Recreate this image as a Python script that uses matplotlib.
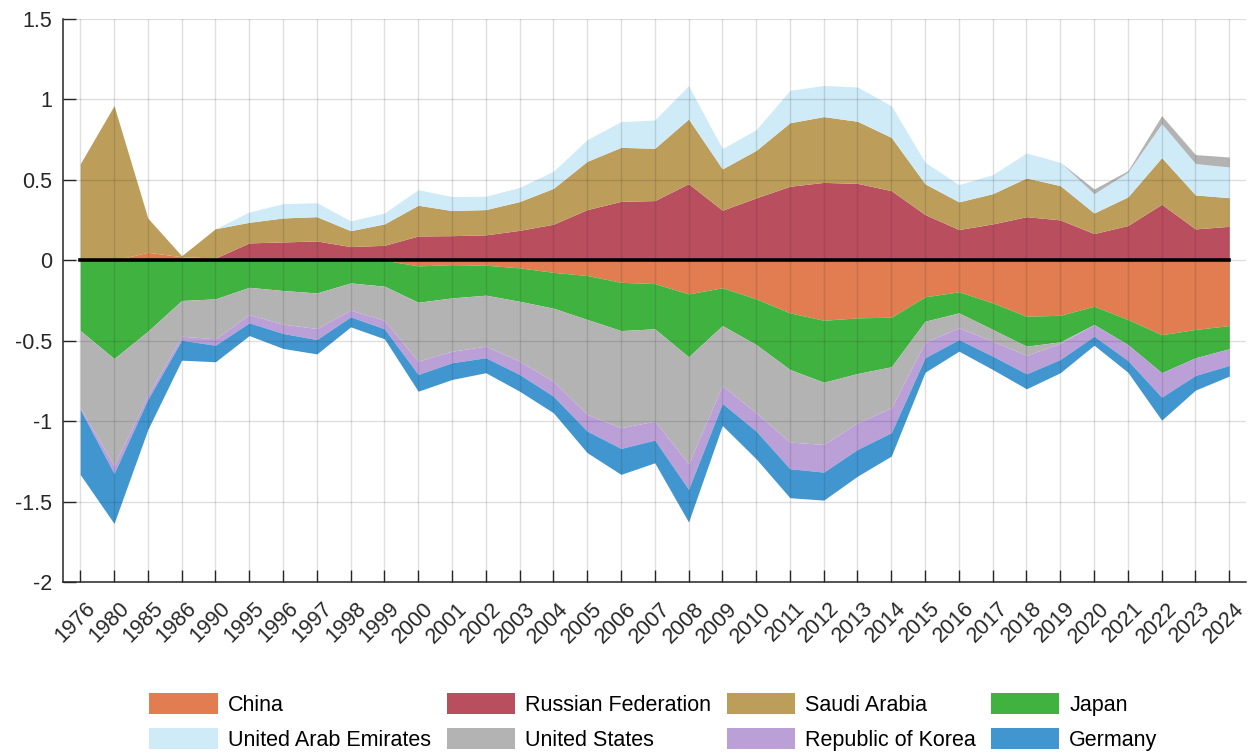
import numpy as np
import matplotlib
matplotlib.use('Agg')
import matplotlib.pyplot as plt
import matplotlib.transforms as mtrans
from matplotlib import font_manager

years = ['1976', '1980', '1985', '1986', '1990', '1995', '1996', '1997', '1998', '1999',
         '2000', '2001', '2002', '2003', '2004', '2005', '2006', '2007', '2008', '2009',
         '2010', '2011', '2012', '2013', '2014', '2015', '2016', '2017', '2018', '2019',
         '2020', '2021', '2022', '2023', '2024']

china = [0, 0, 0.05, 0.022, 0.014, 0, 0, 0, 0, 0,
         -0.035, -0.027, -0.031, -0.047, -0.075, -0.095, -0.137, -0.145, -0.209, -0.171,
         -0.24, -0.327, -0.373, -0.358, -0.354, -0.227, -0.196, -0.265, -0.348, -0.342,
         -0.286, -0.368, -0.463, -0.43, -0.406]
russia = [0, 0, 0, 0, 0, 0.108, 0.114, 0.12, 0.085, 0.093,
          0.151, 0.153, 0.158, 0.186, 0.224, 0.315, 0.366, 0.371, 0.476, 0.311,
          0.388, 0.46, 0.484, 0.478, 0.433, 0.284, 0.191, 0.226, 0.271, 0.251,
          0.166, 0.216, 0.348, 0.195, 0.211]
saudi = [0.6, 0.961, 0.212, 0.006, 0.182, 0.128, 0.149, 0.151, 0.099, 0.133,
         0.191, 0.156, 0.157, 0.179, 0.223, 0.3, 0.336, 0.325, 0.402, 0.257,
         0.295, 0.395, 0.409, 0.386, 0.331, 0.191, 0.172, 0.188, 0.241, 0.213,
         0.128, 0.178, 0.29, 0.211, 0.178]
japan = [-0.437, -0.611, -0.441, -0.25, -0.24, -0.168, -0.188, -0.203, -0.141, -0.161,
         -0.226, -0.207, -0.186, -0.208, -0.223, -0.273, -0.3, -0.281, -0.391, -0.235,
         -0.284, -0.352, -0.385, -0.346, -0.308, -0.152, -0.131, -0.165, -0.186, -0.165,
         -0.113, -0.156, -0.236, -0.176, -0.144]
uae = [0, 0, 0, 0, 0, 0.064, 0.089, 0.087, 0.061, 0.068,
       0.097, 0.087, 0.083, 0.088, 0.106, 0.135, 0.16, 0.176, 0.207, 0.126,
       0.129, 0.201, 0.194, 0.213, 0.197, 0.134, 0.107, 0.118, 0.155, 0.145,
       0.12, 0.153, 0.211, 0.195, 0.191]
usa = [-0.48, -0.664, -0.397, -0.222, -0.248, -0.169, -0.209, -0.221, -0.169, -0.212,
       -0.366, -0.331, -0.317, -0.372, -0.454, -0.59, -0.604, -0.574, -0.665, -0.372,
       -0.424, -0.451, -0.387, -0.306, -0.255, -0.13, -0.093, -0.073, -0.056, -0.01,
       0.029, 0.01, 0.05, 0.056, 0.062]
korea = [-0.01, -0.05, -0.027, -0.025, -0.04, -0.052, -0.058, -0.069, -0.042, -0.053,
         -0.083, -0.072, -0.072, -0.083, -0.093, -0.104, -0.129, -0.118, -0.159, -0.112,
         -0.114, -0.166, -0.172, -0.166, -0.155, -0.097, -0.073, -0.093, -0.116, -0.1,
         -0.073, -0.099, -0.152, -0.11, -0.104]
germany = [-0.405, -0.311, -0.187, -0.124, -0.103, -0.079, -0.093, -0.089, -0.062, -0.062,
           -0.104, -0.104, -0.093, -0.104, -0.103, -0.134, -0.161, -0.141, -0.203, -0.137,
           -0.172, -0.18, -0.174, -0.166, -0.145, -0.09, -0.072, -0.083, -0.093, -0.082,
           -0.056, -0.073, -0.143, -0.091, -0.066]

names = ['China', 'Russian Federation', 'Saudi Arabia', 'Japan',
         'United Arab Emirates', 'United States', 'Republic of Korea', 'Germany']
series = [china, russia, saudi, japan, uae, usa, korea, germany]
colors = ['#E27D51', '#B94E5F', '#BC9D5A', '#40B240',
          '#CFEBF8', '#B3B3B3', '#BBA0D8', '#4196CF']

# narrow font if one is installed, else Arial-like
fonts = {f.name for f in font_manager.fontManager.ttflist}
fam = 'Liberation Sans'
fs = 15.5
for cand in ['Liberation Sans Narrow', 'Arial Narrow']:
    if cand in fonts:
        fam = cand
        fs = 19
        break
plt.rcParams['font.family'] = [fam, 'DejaVu Sans']

x = np.arange(len(years))
fig = plt.figure(figsize=(12.52, 7.53), dpi=100)
ax = fig.add_axes([0.0506, 0.2271, 0.9447, 0.7477])

pos = np.zeros(len(x))
neg = np.zeros(len(x))
handles = []
for s, c, n in zip(series, colors, names):
    v = np.array(s, dtype=float)
    p = np.clip(v, 0, None)
    q = np.clip(v, None, 0)
    h = ax.fill_between(x, pos, pos + p, color=c, lw=0, label=n, zorder=1)
    ax.fill_between(x, neg, neg + q, color=c, lw=0, zorder=1)
    handles.append(h)
    pos = pos + p
    neg = neg + q

ax.plot(x, np.zeros(len(x)), color='black', lw=2.6, zorder=3)

ax.set_xlim(-0.5, 34.5)
ax.set_ylim(-2, 1.5)
ax.set_yticks([-2, -1.5, -1, -0.5, 0, 0.5, 1, 1.5])
ax.set_yticklabels(['-2', '-1.5', '-1', '-0.5', '0', '0.5', '1', '1.5'])
ax.set_xticks(x)
ax.set_xticklabels(years, rotation=45, ha='right', rotation_mode='anchor', va='center')
ax.grid(True, color='#262626', alpha=0.15, lw=1.0)
ax.set_axisbelow(False)
ax.tick_params(direction='in', length=9, width=1.0, colors='#262626', labelsize=fs,
               labelcolor='#262626')
ax.tick_params(axis='y', pad=8)
ax.tick_params(axis='x', pad=12)
shift = mtrans.ScaledTranslation(0.12, -0.07, fig.dpi_scale_trans)
for lab in ax.get_xticklabels():
    lab.set_transform(lab.get_transform() + shift)
ax.spines['top'].set_visible(False)
ax.spines['right'].set_visible(False)
for sp in ['left', 'bottom']:
    ax.spines[sp].set_color('#262626')
    ax.spines[sp].set_linewidth(1.1)

# legend is filled row by row in the original
order = [0, 4, 1, 5, 2, 6, 3, 7]
fig.legend([handles[i] for i in order], [names[i] for i in order],
           loc='center', bbox_to_anchor=(0.522, 0.041), ncol=4, frameon=False,
           fontsize=fs, handlelength=49 / fs, handleheight=17.3 / fs,
           handletextpad=7.2 / fs, columnspacing=11.5 / fs, labelspacing=0.55,
           borderpad=0)

fig.savefig('out.png', dpi=100)
